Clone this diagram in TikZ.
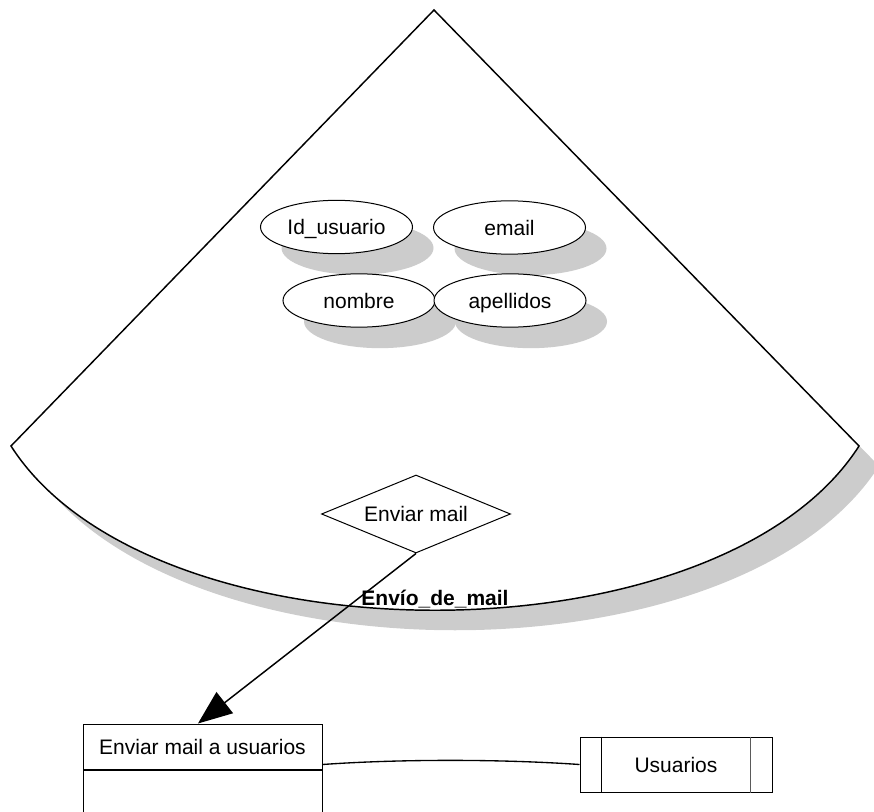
\documentclass[tikz,border=0pt]{standalone}
\usepackage{fontspec}
\setmainfont{Liberation Sans}
\usetikzlibrary{shapes.geometric,arrows.meta}
\definecolor{shadowgray}{RGB}{204,204,204}
\definecolor{linegray}{RGB}{90,90,90}
\begin{document}
\begin{tikzpicture}[x=0.75pt,y=-0.75pt,
  every node/.style={font=\fontsize{15.75}{18}\selectfont},
  capbox/.style={text height=11.3pt,text depth=0pt},
  attr/.style={ellipse,draw=black,fill=white,line width=0.75pt,minimum width=114pt,minimum height=40pt,inner sep=0pt,capbox},
  attrshadow/.style={ellipse,fill=shadowgray,minimum width=114pt,minimum height=40pt,inner sep=0pt},
  relbox/.style={diamond,draw=black,fill=white,line width=0.75pt,shape aspect=2.42,minimum width=141.75pt,minimum height=58.5pt,inner sep=0pt,capbox},
  procbox/.style={rectangle,draw=black,fill=white,line width=0.75pt,minimum width=179.25pt,inner sep=0pt,capbox},
  storebox/.style={rectangle,draw=black,fill=white,line width=0.75pt,minimum width=144pt,minimum height=41.25pt,inner sep=0pt,capbox},
  fanline/.style={draw=black,fill=white,line width=1.1pt,line join=miter},
  conn/.style={draw=black,line width=1pt}
]
\useasboundingbox (0,0) rectangle (874,812);
\clip (0,0) rectangle (874,812);
% fan shadow and fan
\fill[shadowgray] (454,30) -- (31,466) .. controls (171,685) and (739,685) .. (879,466) -- cycle;
\path[fanline] (434,10) -- (11,446) .. controls (151,665) and (719,665) .. (859,446) -- cycle;
% attribute shadows
\node[attrshadow] (s1) at (357.5,248) {};
\node[attrshadow] (s2) at (530.5,248.5) {};
\node[attrshadow] (s3) at (380,321.5) {};
\node[attrshadow] (s4) at (531,321.5) {};
% attributes
\node[attr] (idu) at (336.5,227) {Id\_usuario};
\node[attr] (email) at (509.5,227.5) {email};
\node[attr] (nom) at (359,300.5) {nombre};
\node[attr] (ape) at (510,300.5) {apellidos};
% relationship
\node[relbox] (rel) at (416,514) {Enviar mail};
\node[font=\bfseries\fontsize{15.75}{18}\selectfont,anchor=base] (lbl) at (435,605) {Envío\_de\_mail};
% process box
\node[procbox,minimum height=33.75pt] (hdr) at (202.5,746.5) {Enviar mail a usuarios};
\node[procbox,minimum height=45pt,anchor=north] (body) at (hdr.south) {};
% arrow
\draw[conn,line width=1.1pt,-{Triangle[length=25.5pt,width=20pt]}] (rel.south) -- ([xshift=-3.4pt]hdr.north);
% data store
\node[storebox] (usu) at (676,764.5) {Usuarios};
\draw[line width=0.75pt] ([xshift=16.5pt]usu.north west) -- ([xshift=16.5pt]usu.south west);
\draw[line width=0.75pt,linegray] ([xshift=-16.5pt]usu.north east) -- ([xshift=-16.5pt]usu.south east);
% connector
\draw[conn] (hdr.east |- usu.west) .. controls (400,759) and (500,759) .. (usu.west);
\end{tikzpicture}
\end{document}
